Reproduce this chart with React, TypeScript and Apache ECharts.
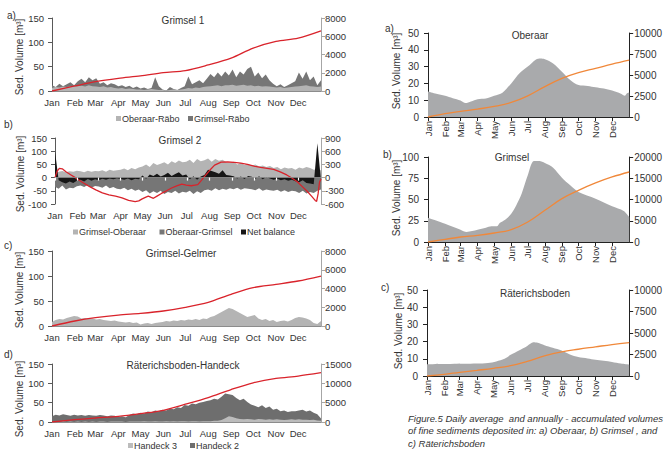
import React, { useEffect, useRef } from "react";
import * as echarts from "echarts";

// ---------- shared axis data ----------
const monthLabels = ["Jan", "Feb", "Mar", "Apr", "May", "Jun", "Jul", "Aug", "Sep", "Oct", "Nov", "Dec"];
const monthStartDays = [0, 31, 59, 90, 120, 151, 181, 212, 243, 273, 304, 334];
const cumDays = [0, 31, 59, 90, 120, 151, 181, 212, 243, 273, 304, 334, 365];
// 5-day sampling of the daily series (day of year)
const sampleDays = Array.from({ length: 74 }, (_, i) => Math.min(i * 5, 365));

// ---------- a) Grimsel 1 ----------
const grimselRaebo = [
  12, 8, 15, 10, 14, 18, 12,
  20, 25, 18, 28, 22,
  26, 15, 18, 12, 16, 14,
  10, 12, 8, 11, 6, 9,
  5, 7, 4, 6, 28, 10,
  3, 1, 8, 4, 2, 6,
  10, 30, 14, 18, 22, 16,
  25, 35, 28, 38, 30, 40,
  32, 44, 28, 40, 34, 45,
  50, 30, 38, 26, 34, 22,
  15, 10, 14, 8, 12, 16,
  20, 38, 25, 40, 22, 30,
  12, 22,
];
const oberaarRaebo = [
  6, 8, 7, 9, 8, 10, 9,
  10, 11, 9, 12, 10,
  9, 8, 10, 7, 8, 6,
  5, 6, 4, 5, 4, 3,
  3, 2, 3, 4, 3, 2,
  2, 1, 2, 3, 2, 3,
  4, 6, 5, 7, 6, 8,
  9, 10, 11, 12, 10, 12,
  12, 13, 11, 12, 13, 11,
  12, 10, 11, 9, 10, 9,
  8, 7, 8, 6, 7, 8,
  9, 10, 11, 12, 10, 9,
  8, 9,
];
const grimsel1Cum = [0, 550, 1030, 1390, 1650, 2020, 2240, 2860, 3600, 4700, 5430, 5800, 6600];

// ---------- b) Grimsel 2 ----------
const grimselOberaar = [
  18, 22, 25, 20, 24, 22, 26,
  24, 20, 26, 22, 25,
  24, 28, 22, 30, 26, 28,
  30, 34, 28, 36, 32, 38,
  42, 50, 40, 55, 48, 52,
  58, 50, 62, 55, 65, 58,
  60, 68, 55, 70, 62, 66,
  72, 60, 70, 64, 68, 58,
  55, 60, 50, 56, 48, 52,
  45, 50, 42, 46, 40, 44,
  36, 40, 32, 38, 34, 36,
  30, 38, 34, 40, 36, 30,
  32, 28,
];
const oberaarGrimsel = [
  -35, -42, -30, -45, -38, -40, -33,
  -30, -36, -28, -38, -32,
  -34, -38, -30, -40, -36, -42,
  -44, -38, -48, -42, -50, -45,
  -55, -48, -60, -52, -58, -50,
  -62, -55, -58, -50, -60, -54,
  -56, -50, -62, -52, -58, -48,
  -45, -50, -40, -48, -42, -46,
  -40, -44, -38, -46, -40, -42,
  -44, -48, -40, -50, -45, -48,
  -50, -46, -54, -48, -55, -50,
  -52, -58, -50, -60, -55, -58,
  -50, -45,
];
const netBalance = [
  100, -10, -18, -22, -15, -20, -12,
  -8, -15, -5, -12, -6,
  -10, -4, -8, -3, -6, -2,
  -5, -8, -3, -10, -4, -6,
  8, -4, 12, 6, 15, 4,
  10, 18, 6, 14, 20, 8,
  12, -6, 5, -8, 4, 10,
  30, 25, 20, 15, 28, 10,
  8, 5, -3, 4, -5, 6,
  3, -4, 5, -6, 2, -3,
  -8, -4, -10, -6, -12, -8,
  -14, -18, -10, -20, -22, -25,
  130, -10,
];
const grimsel2CumDays = [
  0, 3, 6, 10, 15, 22, 29, 38, 47, 56, 65, 74, 83, 92, 101, 110, 115, 119, 124, 128, 132, 135,
  140, 146, 153, 160, 167, 174, 180, 187, 192, 196, 200, 205, 212, 219, 228, 237, 246, 255, 264,
  273, 282, 291, 300, 309, 318, 325, 332, 339, 346, 352, 357, 359, 361, 363, 365,
];
const grimsel2Cum = [
  0, 150, 210, 200, 134, 60, -13, -110, -200, -280, -347, -390, -423, -460, -519, -548, -530, -490,
  -450, -423, -450, -470, -420, -360, -300, -236, -190, -147, -170, -185, -170, -160, -80, 22, 160,
  283, 350, 355, 346, 330, 298, 260, 231, 210, 187, 130, 60, -10, -89, -200, -311, -420, -519, -540,
  -370, -100, -30,
];

// ---------- c) Grimsel-Gelmer ----------
const grimselGelmer = [
  8, 12, 14, 13, 16, 18, 20,
  19, 15, 16, 14, 15,
  13, 14, 12, 11, 10, 11,
  9, 8, 7, 8, 6, 7,
  3, 5, 6, 4, 6, 7,
  8, 10, 9, 11, 10, 12,
  11, 13, 12, 14, 12, 15,
  14, 18, 20, 24, 28, 32,
  36, 34, 30, 26, 22, 18,
  20, 22, 15, 12, 14, 10,
  12, 8, 10, 11, 9, 12,
  16, 18, 17, 15, 12, 6,
  4, 10,
];
const gelmerCum = [0, 533, 890, 1170, 1350, 1600, 1990, 2520, 3380, 4090, 4440, 4800, 5330];

// ---------- d) Räterichsboden-Handeck ----------
const handeck2 = [
  15, 19, 17, 20, 18, 16, 19,
  17, 18, 16, 18, 17,
  16, 18, 17, 15, 17, 16,
  13, 15, 12, 18, 22, 20,
  24, 22, 27, 25, 30, 28,
  32, 30, 35, 33, 38, 36,
  44, 42, 48, 46, 50, 52,
  54, 56, 60, 58, 65, 74,
  72, 70, 62, 56, 60, 52,
  45, 42, 38, 43, 36, 40,
  32, 34, 28, 30, 26, 28,
  28, 30, 32, 27, 30, 24,
  20, 9,
];
const handeck3 = [
  0, 1, 0, 1, 0, 1, 0,
  1, 0, 1, 0, 1,
  0, 1, 1, 0, 1, 1,
  1, 1, 0, 1, 1, 1,
  1, 2, 1, 1, 2, 1,
  1, 2, 1, 2, 1, 2,
  2, 1, 2, 2, 1, 2,
  2, 2, 3, 3, 5, 10,
  15, 13, 10, 8, 7, 8,
  7, 6, 8, 7, 6, 7,
  6, 7, 6, 5, 6, 7,
  6, 7, 6, 6, 5, 6,
  4, 3,
];
const handeckCum = [0, 607, 1040, 1470, 2170, 3030, 4600, 6330, 8400, 10140, 11270, 11880, 12750];

// ---------- right: a) Oberaar ----------
const oberaarDays = [0, 15, 31, 45, 59, 68, 78, 90, 105, 120, 135, 151, 166, 181, 196, 204, 212, 227, 243, 258, 273, 290, 304, 319, 334, 350, 357, 361, 365];
const oberaarDaily = [15.2, 13.8, 12.6, 11.2, 9.8, 8.3, 9.3, 10.6, 11, 12.6, 14.5, 20, 26, 30, 34.3, 34.8, 34.4, 31.9, 27, 22, 19, 18.5, 17.7, 16.9, 15.7, 13.8, 12.6, 14.2, 14.6];
const oberaarCum = [0, 394, 670, 945, 1260, 1730, 2520, 3620, 4600, 5280, 5790, 6300, 6770];

// ---------- right: b) Grimsel ----------
const grimselDays = [0, 31, 59, 70, 80, 90, 105, 115, 125, 130, 140, 151, 160, 170, 181, 192, 202, 212, 227, 243, 258, 273, 304, 334, 355, 365];
const grimselDaily = [28.6, 21.6, 14.5, 11.8, 12.9, 14.5, 16.9, 18.4, 18.4, 22.4, 26.3, 33.3, 43, 57, 78.4, 95.3, 95.3, 93, 87.5, 75.7, 66.7, 58.8, 51, 42, 36.5, 29.4];
const grimselCum = [0, 627, 1176, 1570, 2120, 2900, 4700, 7450, 10200, 12160, 13900, 15300, 16470];

// ---------- right: c) Räterichsboden ----------
const raeterDays = [0, 90, 110, 125, 140, 151, 166, 181, 192, 200, 212, 227, 243, 258, 273, 290, 304, 334, 350, 365];
const raeterDaily = [6.8, 7.2, 7.6, 8.5, 10, 12.3, 14.8, 17.5, 19.6, 19.3, 17.9, 16.4, 14.8, 12.5, 11, 10.2, 9.4, 8.2, 7.2, 6.6];
const raeterCum = [0, 195, 430, 660, 895, 1200, 1710, 2330, 2800, 3110, 3390, 3660, 3890];

// ---------- styling ----------
const FONT = "'Liberation Sans', Arial, sans-serif";
const TEXT = "#333333";
const RED = "#d9232b";
const ORANGE = "#f0883a";
const LIGHT = "#b4b4b4";
const DARK = "#767676";
const RIGHT_AREA = "#a9aaac";
const MONTH_FONT_SIZE = 9.5;

const GRIDS = [
  { left: 52, top: 18, width: 269, height: 73 },
  { left: 55, top: 138, width: 266, height: 66 },
  { left: 52, top: 251, width: 269, height: 75 },
  { left: 52, top: 364, width: 269, height: 58 },
  { left: 428, top: 33, width: 211, height: 84 },
  { left: 428, top: 157, width: 211, height: 85 },
  { left: 427, top: 290, width: 216, height: 86 },
];

const pairs = (days: number[], vals: number[]) => days.map((d, i) => [d, vals[i]]);

const monthName = (v: number) => {
  const i = monthStartDays.indexOf(v);
  return i >= 0 ? monthLabels[i] : "";
};

const txt = (text: string, x: number, y: number, opts: any = {}) => ({
  type: "text",
  x,
  y,
  rotation: opts.rotation || 0,
  silent: true,
  z: 20,
  style: {
    text,
    fill: opts.fill || TEXT,
    fontSize: opts.fontSize || 10,
    fontFamily: FONT,
    fontStyle: opts.fontStyle || "normal",
    align: opts.align || "center",
    verticalAlign: "middle",
  },
});

function baseGraphic(): any[] {
  const sq = (x: number, y: number, color: string) => ({
    type: "rect",
    silent: true,
    shape: { x, y: y - 2.5, width: 5, height: 5 },
    style: { fill: color },
  });
  const yTitle = (x: number, y: number) => txt("Sed. Volume [m³]", x, y, { rotation: Math.PI / 2, fontSize: 10 });
  return [
    // panel letters
    txt("a)", 7, 15, { align: "left" }),
    txt("b)", 4, 124, { align: "left" }),
    txt("c)", 4, 245, { align: "left" }),
    txt("d)", 4, 354, { align: "left" }),
    txt("a)", 385, 28, { align: "left" }),
    txt("b)", 383, 154, { align: "left" }),
    txt("c)", 381, 287, { align: "left" }),
    // titles
    txt("Grimsel 1", 183, 20),
    txt("Grimsel 2", 180, 140),
    txt("Grimsel-Gelmer", 181, 253),
    txt("Räterichsboden-Handeck", 183, 365),
    txt("Oberaar", 530, 35),
    txt("Grimsel", 512, 157),
    txt("Räterichsboden", 535, 293),
    // y titles
    yTitle(19, 57),
    yTitle(20, 174),
    yTitle(19, 290),
    yTitle(19, 399),
    yTitle(396, 71),
    yTitle(396, 198),
    yTitle(398, 331),
    // legends
    sq(116, 118.5, LIGHT),
    txt("Oberaar-Räbo", 122, 118.5, { align: "left", fontSize: 9 }),
    sq(188, 118.5, DARK),
    txt("Grimsel-Räbo", 194, 118.5, { align: "left", fontSize: 9 }),
    sq(73, 232, LIGHT),
    txt("Grimsel-Oberaar", 79, 232, { align: "left", fontSize: 9 }),
    sq(159.5, 232, DARK),
    txt("Oberaar-Grimsel", 165.5, 232, { align: "left", fontSize: 9 }),
    sq(241, 232, "#161616"),
    txt("Net balance", 247, 232, { align: "left", fontSize: 9 }),
    sq(128, 445.5, "#bcbcbc"),
    txt("Handeck 3", 134, 445.5, { align: "left", fontSize: 9 }),
    sq(190, 445.5, "#6e6e6e"),
    txt("Handeck 2", 196, 445.5, { align: "left", fontSize: 9 }),
    // caption
    txt("Figure.5 Daily average  and annually - accumulated volumes", 408, 418, { align: "left", fontSize: 9.5, fontStyle: "italic" }),
    txt("of fine sediments deposited in: a) Oberaar, b) Grimsel , and", 408, 430.5, { align: "left", fontSize: 9.5, fontStyle: "italic" }),
    txt("c) Räterichsboden", 408, 443, { align: "left", fontSize: 9.5, fontStyle: "italic" }),
  ];
}

function buildOption(): any {
  const leftX = (gi: number) => ({
    type: "value",
    gridIndex: gi,
    min: 0,
    max: 365,
    axisLine: { show: gi !== 1, onZero: false, lineStyle: { color: "#8c8c8c", width: 1 } },
    axisTick: { show: false },
    splitLine: { show: false },
    axisLabel: {
      customValues: monthStartDays,
      formatter: monthName,
      color: TEXT,
      fontSize: 9.5,
      fontFamily: FONT,
      margin: 6,
    },
  });

  const rightX = (gi: number) => ({
    type: "value",
    gridIndex: gi,
    min: 0,
    max: 365,
    axisLine: { show: true, onZero: false, lineStyle: { color: "#222", width: 1 } },
    axisTick: { show: true, length: 4, customValues: monthStartDays, lineStyle: { color: "#222" } },
    splitLine: { show: false },
    axisLabel: { show: false },
  });

  const yAx = (gi: number, pos: "left" | "right", min: number, max: number, interval: number, lineColor: string, margin: number, fontSize = 9.5) => ({
    type: "value",
    gridIndex: gi,
    position: pos,
    min,
    max,
    interval,
    axisLine: { show: true, onZero: false, lineStyle: { color: lineColor, width: 1 } },
    axisTick: { show: true, length: 4, lineStyle: { color: lineColor } },
    splitLine: { show: false },
    axisLabel: {
      color: TEXT,
      fontSize,
      fontFamily: FONT,
      margin,
      formatter: (v: number) => String(v),
    },
  });

  const xAxis = [
    leftX(0), leftX(1), leftX(2), leftX(3),
    rightX(4), rightX(5), rightX(6),
    {
      type: "value",
      gridIndex: 1,
      min: 0,
      max: 365,
      z: 10,
      axisLine: { show: true, onZero: true, lineStyle: { color: "#8c8c8c", width: 0.8 } },
      axisTick: { show: true, inside: true, length: 3, customValues: monthStartDays, lineStyle: { color: "#ffffff", width: 1.2 } },
      axisLabel: { show: false },
      splitLine: { show: false },
    },
  ];

  const yAxis = [
    yAx(0, "left", 0, 150, 50, "#595959", 8),
    yAx(0, "right", 0, 8000, 2000, "#a6a6a6", 4),
    yAx(1, "left", -100, 150, 50, "#595959", 8),
    yAx(1, "right", -600, 900, 300, "#a6a6a6", 4),
    yAx(2, "left", 0, 150, 50, "#595959", 8),
    yAx(2, "right", 0, 8000, 2000, "#a6a6a6", 4),
    yAx(3, "left", 0, 150, 50, "#595959", 8),
    yAx(3, "right", 0, 15000, 5000, "#a6a6a6", 4),
    yAx(4, "left", 0, 50, 10, "#222", 9, 10),
    yAx(4, "right", 0, 10000, 2500, "#222", 5, 10),
    yAx(5, "left", 0, 100, 25, "#222", 9, 10),
    yAx(5, "right", 0, 20000, 5000, "#222", 5, 10),
    yAx(6, "left", 0, 50, 10, "#222", 9, 10),
    yAx(6, "right", 0, 10000, 2500, "#222", 5, 10),
  ];

  const area = (name: string, x: number, y: number, data: any[], color: string, smooth: number | boolean = false, z = 2) => ({
    name,
    type: "line",
    xAxisIndex: x,
    yAxisIndex: y,
    data,
    smooth,
    symbol: "none",
    silent: true,
    z,
    lineStyle: { width: 0, color },
    areaStyle: { color, opacity: 1 },
  });

  const cum = (name: string, x: number, y: number, data: any[], color: string, smooth: number | boolean = false) => ({
    name,
    type: "line",
    xAxisIndex: x,
    yAxisIndex: y,
    data,
    smooth,
    symbol: "none",
    silent: true,
    z: 5,
    lineStyle: { width: 1.3, color },
  });

  const series = [
    area("Grimsel-Räbo", 0, 0, pairs(sampleDays, grimselRaebo), DARK),
    area("Oberaar-Räbo", 0, 0, pairs(sampleDays, oberaarRaebo), LIGHT, false, 3),
    cum("Grimsel 1 cum", 0, 1, pairs(cumDays, grimsel1Cum), RED, 0.3),

    area("Grimsel-Oberaar", 1, 2, pairs(sampleDays, grimselOberaar), LIGHT),
    area("Oberaar-Grimsel", 1, 2, pairs(sampleDays, oberaarGrimsel), DARK),
    area("Net balance", 1, 2, pairs(sampleDays, netBalance), "#161616", false, 3),
    cum("Grimsel 2 cum", 1, 3, pairs(grimsel2CumDays, grimsel2Cum), RED),

    area("Grimsel-Gelmer", 2, 4, pairs(sampleDays, grimselGelmer), LIGHT),
    cum("Gelmer cum", 2, 5, pairs(cumDays, gelmerCum), RED, 0.3),

    area("Handeck 2", 3, 6, pairs(sampleDays, handeck2), "#6e6e6e"),
    area("Handeck 3", 3, 6, pairs(sampleDays, handeck3), "#bcbcbc", false, 3),
    cum("Handeck cum", 3, 7, pairs(cumDays, handeckCum), RED, 0.3),

    area("Oberaar", 4, 8, pairs(oberaarDays, oberaarDaily), RIGHT_AREA, 0.3),
    cum("Oberaar cum", 4, 9, pairs(cumDays, oberaarCum), ORANGE, 0.4),
    area("Grimsel", 5, 10, pairs(grimselDays, grimselDaily), RIGHT_AREA, 0.3),
    cum("Grimsel cum", 5, 11, pairs(cumDays, grimselCum), ORANGE, 0.4),
    area("Räterichsboden", 6, 12, pairs(raeterDays, raeterDaily), RIGHT_AREA, 0.3),
    cum("Räterichsboden cum", 6, 13, pairs(cumDays, raeterCum), ORANGE, 0.4),
  ];

  return {
    animation: false,
    backgroundColor: "#ffffff",
    textStyle: { fontFamily: FONT },
    grid: GRIDS,
    xAxis,
    yAxis,
    series,
    graphic: baseGraphic(),
  };
}

function measure(text: string, fontSize: number): number {
  const ctx = document.createElement("canvas").getContext("2d");
  if (!ctx) return text.length * fontSize * 0.55;
  ctx.font = `${fontSize}px 'Liberation Sans', Arial, sans-serif`;
  return ctx.measureText(text).width;
}

export default function App() {
  const ref = useRef<HTMLDivElement>(null);
  useEffect(() => {
    document.body.style.margin = "0";
    const chart = echarts.init(ref.current as HTMLDivElement, null, { renderer: "svg" });
    chart.setOption(buildOption());
    // rotated month labels of the right-hand panels, placed through the x axes' own scales
    const monthTexts: any[] = [];
    [4, 5, 6].forEach((xi) => {
      const g = GRIDS[xi];
      monthStartDays.forEach((d, i) => {
        const px = chart.convertToPixel({ xAxisIndex: xi }, d) as unknown as number;
        const w = measure(monthLabels[i], MONTH_FONT_SIZE);
        monthTexts.push(
          txt(monthLabels[i], px, g.top + g.height + 4 + w / 2, {
            rotation: Math.PI / 2,
            align: "center",
            fontSize: MONTH_FONT_SIZE,
          })
        );
      });
    });
    chart.setOption({ graphic: [...baseGraphic(), ...monthTexts] });
    return () => chart.dispose();
  }, []);
  return (
    <div
      ref={ref}
      style={{ position: "absolute", left: 0, top: 0, width: 665, height: 451, background: "#fff" }}
    />
  );
}
